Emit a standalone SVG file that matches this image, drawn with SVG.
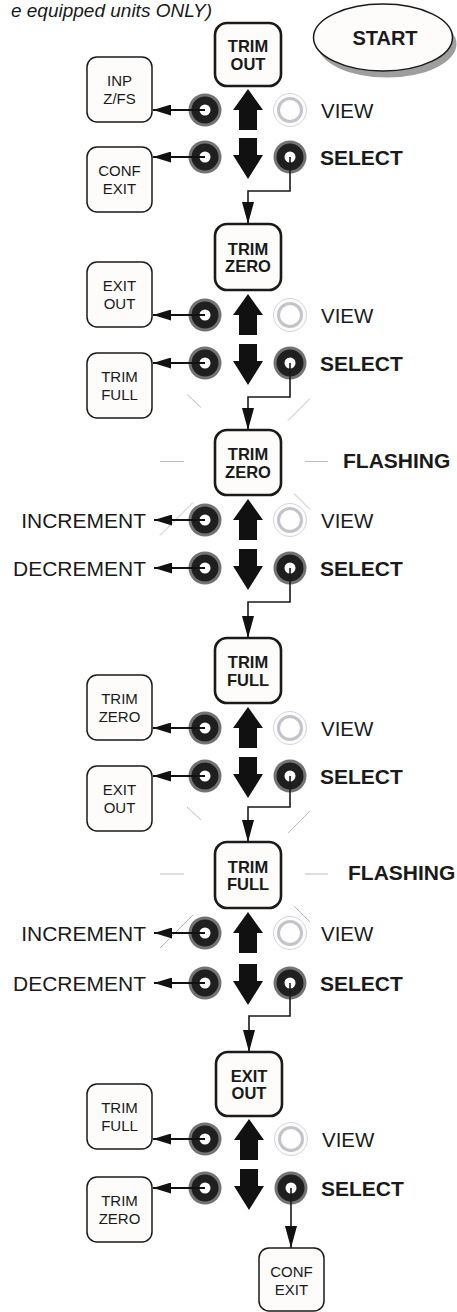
<svg xmlns="http://www.w3.org/2000/svg" xmlns:xlink="http://www.w3.org/1999/xlink" width="457" height="1312" viewBox="0 0 457 1312">
  <style>
    text { font-family: "Liberation Sans", Arial, sans-serif; fill: #1a1a1a; }
    .main { fill: #fdfcfa; stroke: #1a1a1a; stroke-width: 2.6; }
    .side { fill: #fdfcfa; stroke: #1a1a1a; stroke-width: 1.5; }
    .mt { font-size: 16.5px; font-weight: bold; text-anchor: middle; }
    .st { font-size: 15px; text-anchor: middle; }
    .view { font-size: 20.5px; }
    .sel { font-size: 21px; font-weight: bold; }
    .act { font-size: 21px; text-anchor: end; }
    .flash { font-size: 21px; font-weight: bold; }
    .ray { stroke: #bdbdbd; stroke-width: 1; fill: none; }
    .link { stroke: #1a1a1a; stroke-width: 1.6; fill: none; }
    .out { stroke: #111; stroke-width: 2.2; fill: none; }
  </style>
  <defs>
    <marker id="ahDown" markerUnits="userSpaceOnUse" markerWidth="22" markerHeight="12" refX="22" refY="6" orient="auto">
      <path d="M0,0 L22,6 L0,12 Z" fill="#111"/>
    </marker>
    <marker id="ahLeft" markerUnits="userSpaceOnUse" markerWidth="18" markerHeight="11" refX="18" refY="5.5" orient="auto">
      <path d="M0,0 L18,5.5 L0,11 Z" fill="#111"/>
    </marker>
    <g id="lit"><circle r="16.5" fill="#737373"/><circle r="13.5" fill="#1f1f1f"/><circle r="5.5" fill="#fff"/></g>
    <g id="unlit"><circle r="16.5" fill="#fbfbfb" stroke="#d6d6d6" stroke-width="1"/><circle r="11.5" fill="#fefefe" stroke="#c3c4ca" stroke-width="3"/></g>
    <path id="up" d="M0,0 L15,21 L9,21 L9,41 L-9,41 L-9,21 L-15,21 Z" fill="#111"/>
    <path id="down" d="M-9,0 L9,0 L9,17 L15,17 L0,41 L-15,17 L-9,17 Z" fill="#111"/>
    <g id="rays" class="ray">
      <line x1="-88" y1="-1" x2="-64" y2="-1"/>
      <line x1="57" y1="-1" x2="80" y2="-1"/>
      <line x1="-61" y1="-68" x2="-47" y2="-55"/>
      <line x1="62" y1="-64" x2="40" y2="-42"/>
      <line x1="46" y1="31" x2="62" y2="47"/>
      <line x1="-55" y1="40" x2="-88" y2="73"/>
    </g>
  </defs>

  <!-- heading line -->
  <text x="212" y="17" font-size="19" font-style="italic" text-anchor="end">e equipped units ONLY)</text>

  <!-- start terminal -->
  <g id="start">
    <ellipse cx="387" cy="44" rx="69.5" ry="33.5" fill="#9e9e9e"/>
    <ellipse cx="383" cy="37.5" rx="69.5" ry="33.5" fill="#fdfcfa" stroke="#1a1a1a" stroke-width="1.5"/>
    <text x="385" y="45" font-size="20" font-weight="bold" text-anchor="middle">START</text>
  </g>

  <!-- flashing indicators -->
  <use xlink:href="#rays" transform="translate(248,462.5)"/>
  <use xlink:href="#rays" transform="translate(248,875)"/>

  <!-- block 1 -->
  <g id="trim-out">
    <rect class="main" x="215" y="23" width="66" height="63" rx="12"/>
    <text class="mt" x="248" y="52">TRIM</text><text class="mt" x="248" y="69.5">OUT</text>
  </g>
  <g id="inp-zfs">
    <rect class="side" x="87" y="57" width="65" height="65" rx="10"/>
    <text class="st" x="119.5" y="85.5">INP</text><text class="st" x="119.5" y="104">Z/FS</text>
  </g>
  <g id="conf-exit-1">
    <rect class="side" x="87" y="147" width="65" height="65" rx="10"/>
    <text class="st" x="119.5" y="175.5">CONF</text><text class="st" x="119.5" y="194">EXIT</text>
  </g>
  <g id="keys-1">
    <use xlink:href="#lit" x="205" y="110"/><use xlink:href="#lit" x="205" y="157"/>
    <use xlink:href="#unlit" x="290" y="110"/><use xlink:href="#lit" x="290" y="157"/>
    <use xlink:href="#up" x="248" y="89"/><use xlink:href="#down" x="248" y="138"/>
    <text class="view" x="321" y="117.5">VIEW</text><text class="sel" x="320" y="164.5">SELECT</text>
  </g>

  <!-- block 2 -->
  <g id="trim-zero-1">
    <rect class="main" x="215" y="224" width="66" height="66" rx="12"/>
    <text class="mt" x="248" y="254.5">TRIM</text><text class="mt" x="248" y="272">ZERO</text>
  </g>
  <g id="exit-out-1">
    <rect class="side" x="87" y="262" width="65" height="65" rx="10"/>
    <text class="st" x="119.5" y="290.5">EXIT</text><text class="st" x="119.5" y="309">OUT</text>
  </g>
  <g id="trim-full-1">
    <rect class="side" x="87" y="353" width="65" height="65" rx="10"/>
    <text class="st" x="119.5" y="381.5">TRIM</text><text class="st" x="119.5" y="400">FULL</text>
  </g>
  <g id="keys-2">
    <use xlink:href="#lit" x="205" y="315"/><use xlink:href="#lit" x="205" y="363"/>
    <use xlink:href="#unlit" x="290" y="315"/><use xlink:href="#lit" x="290" y="363"/>
    <use xlink:href="#up" x="248" y="294"/><use xlink:href="#down" x="248" y="344"/>
    <text class="view" x="321" y="322.5">VIEW</text><text class="sel" x="320" y="370.5">SELECT</text>
  </g>

  <!-- block 3 -->
  <g id="trim-zero-flash">
    <rect class="main" x="215" y="430" width="66" height="65" rx="12"/>
    <text class="mt" x="248" y="460">TRIM</text><text class="mt" x="248" y="477.5">ZERO</text>
    <text class="flash" x="343" y="468">FLASHING</text>
  </g>
  <g id="keys-3">
    <use xlink:href="#lit" x="205" y="520"/><use xlink:href="#lit" x="205" y="568"/>
    <use xlink:href="#unlit" x="290" y="520"/><use xlink:href="#lit" x="290" y="568"/>
    <use xlink:href="#up" x="248" y="499"/><use xlink:href="#down" x="248" y="549"/>
    <text class="view" x="321" y="527.5">VIEW</text><text class="sel" x="320" y="575.5">SELECT</text>
    <text class="act" x="146" y="528">INCREMENT</text><text class="act" x="146" y="576">DECREMENT</text>
  </g>

  <!-- block 4 -->
  <g id="trim-full-2">
    <rect class="main" x="215" y="638" width="66" height="65" rx="12"/>
    <text class="mt" x="248" y="668">TRIM</text><text class="mt" x="248" y="685.5">FULL</text>
  </g>
  <g id="trim-zero-2">
    <rect class="side" x="87" y="675" width="65" height="65" rx="10"/>
    <text class="st" x="119.5" y="703.5">TRIM</text><text class="st" x="119.5" y="722">ZERO</text>
  </g>
  <g id="exit-out-2">
    <rect class="side" x="87" y="766" width="65" height="65" rx="10"/>
    <text class="st" x="119.5" y="794.5">EXIT</text><text class="st" x="119.5" y="813">OUT</text>
  </g>
  <g id="keys-4">
    <use xlink:href="#lit" x="205" y="728"/><use xlink:href="#lit" x="205" y="776"/>
    <use xlink:href="#unlit" x="290" y="728"/><use xlink:href="#lit" x="290" y="776"/>
    <use xlink:href="#up" x="248" y="707"/><use xlink:href="#down" x="248" y="757"/>
    <text class="view" x="321" y="735.5">VIEW</text><text class="sel" x="320" y="783.5">SELECT</text>
  </g>

  <!-- block 5 -->
  <g id="trim-full-flash">
    <rect class="main" x="215" y="842" width="66" height="66" rx="12"/>
    <text class="mt" x="248" y="872.5">TRIM</text><text class="mt" x="248" y="890">FULL</text>
    <text class="flash" x="348" y="880">FLASHING</text>
  </g>
  <g id="keys-5">
    <use xlink:href="#lit" x="205" y="933"/><use xlink:href="#lit" x="205" y="983"/>
    <use xlink:href="#unlit" x="290" y="933"/><use xlink:href="#lit" x="290" y="983"/>
    <use xlink:href="#up" x="248" y="912"/><use xlink:href="#down" x="248" y="964"/>
    <text class="view" x="321" y="940.5">VIEW</text><text class="sel" x="320" y="990.5">SELECT</text>
    <text class="act" x="146" y="941">INCREMENT</text><text class="act" x="146" y="991">DECREMENT</text>
  </g>

  <!-- block 6 -->
  <g id="exit-out-3">
    <rect class="main" x="216" y="1052" width="66" height="64" rx="12"/>
    <text class="mt" x="249" y="1081.5">EXIT</text><text class="mt" x="249" y="1099">OUT</text>
  </g>
  <g id="trim-full-3">
    <rect class="side" x="87" y="1084" width="65" height="65" rx="10"/>
    <text class="st" x="119.5" y="1112.5">TRIM</text><text class="st" x="119.5" y="1131">FULL</text>
  </g>
  <g id="trim-zero-3">
    <rect class="side" x="87" y="1177" width="65" height="65" rx="10"/>
    <text class="st" x="119.5" y="1205.5">TRIM</text><text class="st" x="119.5" y="1224">ZERO</text>
  </g>
  <g id="keys-6">
    <use xlink:href="#lit" x="205" y="1139"/><use xlink:href="#lit" x="205" y="1188"/>
    <use xlink:href="#unlit" x="291" y="1139"/><use xlink:href="#lit" x="291" y="1188"/>
    <use xlink:href="#up" x="249" y="1119"/><use xlink:href="#down" x="249" y="1169"/>
    <text class="view" x="322" y="1146.5">VIEW</text><text class="sel" x="321" y="1195.5">SELECT</text>
  </g>
  <g id="conf-exit-2">
    <rect class="side" x="259" y="1248" width="65" height="63" rx="10"/>
    <text class="st" x="291.5" y="1276.5">CONF</text><text class="st" x="291.5" y="1295">EXIT</text>
  </g>

  <!-- connectors -->
  <g id="connectors">
    <path class="link" d="M290,157 V191 H248 V224" marker-end="url(#ahDown)"/>
    <path class="link" d="M290,363 V397 H248 V430" marker-end="url(#ahDown)"/>
    <path class="link" d="M290,568 V602 H248 V638" marker-end="url(#ahDown)"/>
    <path class="link" d="M290,776 V807 H248 V842" marker-end="url(#ahDown)"/>
    <path class="link" d="M290,983 V1016 H249 V1052" marker-end="url(#ahDown)"/>
    <path class="link" d="M291,1188 V1248" marker-end="url(#ahDown)"/>
    <path class="out" d="M205,110 H153" marker-end="url(#ahLeft)"/>
    <path class="out" d="M205,157 H153" marker-end="url(#ahLeft)"/>
    <path class="out" d="M205,315 H153" marker-end="url(#ahLeft)"/>
    <path class="out" d="M205,363 H153" marker-end="url(#ahLeft)"/>
    <path class="out" d="M205,520 H154" marker-end="url(#ahLeft)"/>
    <path class="out" d="M205,568 H154" marker-end="url(#ahLeft)"/>
    <path class="out" d="M205,728 H153" marker-end="url(#ahLeft)"/>
    <path class="out" d="M205,776 H153" marker-end="url(#ahLeft)"/>
    <path class="out" d="M205,933 H154" marker-end="url(#ahLeft)"/>
    <path class="out" d="M205,983 H154" marker-end="url(#ahLeft)"/>
    <path class="out" d="M205,1139 H153" marker-end="url(#ahLeft)"/>
    <path class="out" d="M205,1188 H153" marker-end="url(#ahLeft)"/>
  </g>
</svg>
